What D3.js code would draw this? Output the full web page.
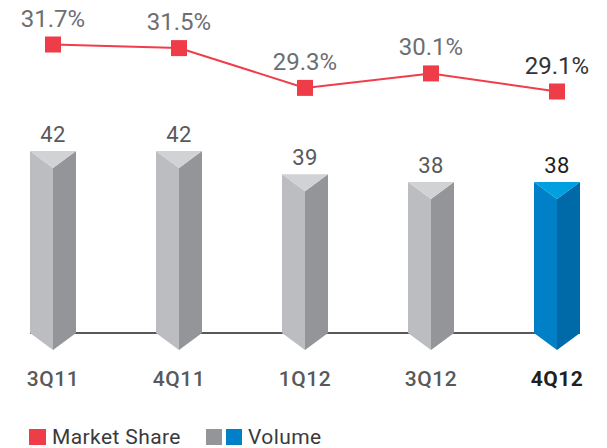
<!DOCTYPE html>
<html><head><meta charset="utf-8">
<script src="https://cdn.jsdelivr.net/npm/d3@7"></script>
<style>body{margin:0;background:#fff}svg{display:block}</style>
</head><body>
<script>
const categories = ["3Q11","4Q11","1Q12","3Q12","4Q12"];
const volume = [42, 42, 39, 38, 38];
const marketShare = [31.7, 31.5, 29.3, 30.1, 29.1];
const shareLabels = ["31.7%","31.5%","29.3%","30.1%","29.1%"];
const highlight = "4Q12";

const W = 607, H = 448;
const svg = d3.select("body").append("svg").attr("width", W).attr("height", H);
const font = "Roboto, 'DejaVu Sans', sans-serif";

const x = d3.scalePoint().domain(categories).range([53, 557]);
const yBar = d3.scaleLinear().domain([18.5, 42]).range([333, 151]);
const yLine = d3.scaleLinear().domain([29.1, 31.7]).range([91.5, 44.5]);

const base = yBar.domain()[0];
const hw = 23, depth = 17;

// baseline
svg.append("line").attr("x1", 30).attr("x2", 580)
  .attr("y1", yBar(base)).attr("y2", yBar(base))
  .attr("stroke", "#231f20").attr("stroke-width", 1.5);

const gray = {left:"#bcbdc0", right:"#939598", top:"#d1d2d4"};
const blue = {left:"#0080c6", right:"#0069a8", top:"#009fdf"};

const bars = svg.append("g").selectAll("g").data(categories).join("g");
bars.each(function(c, i){
  const g = d3.select(this);
  const cx = x(c), yt = yBar(volume[i]), yb = yBar(base);
  const col = c === highlight ? blue : gray;
  g.append("polygon").attr("fill", col.left)
    .attr("points", [[cx-hw,yt],[cx,yt+depth],[cx,yb+depth],[cx-hw,yb]].join(" "));
  g.append("polygon").attr("fill", col.right)
    .attr("points", [[cx,yt+depth],[cx+hw,yt],[cx+hw,yb],[cx,yb+depth]].join(" "));
  g.append("polygon").attr("fill", col.top)
    .attr("points", [[cx-hw,yt],[cx+hw,yt],[cx,yt+depth]].join(" "));
  g.append("text").attr("x", cx).attr("y", yt - 9)
    .attr("text-anchor", "middle").attr("font-family", font).attr("font-size", 22)
    .attr("font-weight", 400).attr("letter-spacing", 0.5)
    .attr("fill", c === highlight ? "#231f20" : "#58595b").text(volume[i]);
  g.append("text").attr("x", cx).attr("y", 386)
    .attr("text-anchor", "middle").attr("font-family", font).attr("font-size", 21)
    .attr("font-weight", c === highlight ? 700 : 500).attr("letter-spacing", 0.5)
    .attr("fill", c === highlight ? "#231f20" : "#58595b").text(c);
});

// line
const line = d3.line().x((d,i)=>x(categories[i])).y(d=>yLine(d));
svg.append("path").datum(marketShare).attr("d", line)
  .attr("fill","none").attr("stroke","#ef3e4a").attr("stroke-width",2);
const ms = 16;
svg.append("g").selectAll("rect").data(marketShare).join("rect")
  .attr("x",(d,i)=>x(categories[i])-ms/2).attr("y",d=>yLine(d)-ms/2)
  .attr("width",ms).attr("height",ms).attr("fill","#ee3d48");
svg.append("g").selectAll("text").data(marketShare).join("text")
  .attr("x",(d,i)=>x(categories[i])).attr("y",d=>yLine(d)-18)
  .attr("text-anchor","middle").attr("font-family",font).attr("font-size",24)
  .attr("fill",(d,i)=>categories[i]===highlight?"#333333":"#6d6e71")
  .text((d,i)=>shareLabels[i]);

// legend
const lg = svg.append("g").attr("font-family", font).attr("font-size", 21)
  .attr("letter-spacing", 0.4).attr("fill", "#3a3a3c");
lg.append("rect").attr("x",29).attr("y",429).attr("width",17).attr("height",16).attr("fill","#ee3d48");
lg.append("text").attr("x",52).attr("y",444).text("Market Share");
lg.append("rect").attr("x",206).attr("y",429).attr("width",16).attr("height",16).attr("fill","#939598");
lg.append("rect").attr("x",226).attr("y",429).attr("width",16).attr("height",16).attr("fill","#0080c6");
lg.append("text").attr("x",248).attr("y",444).text("Volume");
</script>
</body></html>
